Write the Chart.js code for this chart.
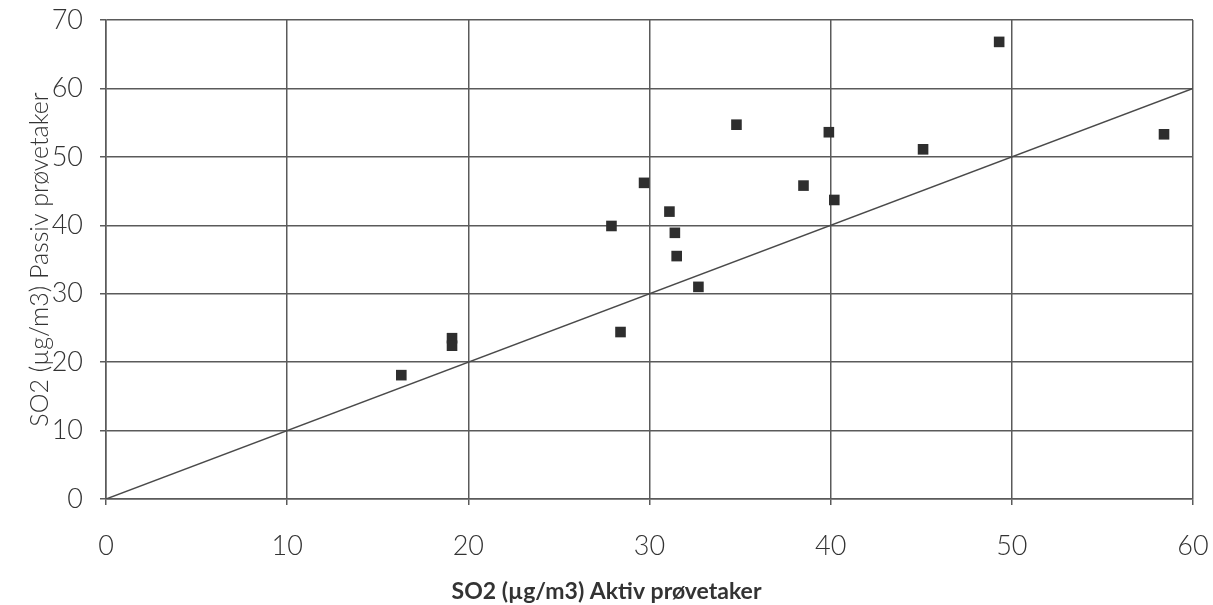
<!DOCTYPE html>
<html>
<head>
<meta charset="utf-8">
<script src="https://cdn.jsdelivr.net/npm/chart.js@4/dist/chart.umd.min.js"></script>
<style>
  html, body { margin: 0; padding: 0; background: #fff; }
  #wrap { width: 1213px; height: 605px; }
</style>
</head>
<body>
<div id="wrap"><canvas id="chart"></canvas></div>
<script>
// SO2: aktiv vs passiv provetaker
const aktiv  = [16.3, 19.1, 19.1, 27.9, 28.4, 29.7, 31.1, 31.4, 31.5, 32.7, 34.8, 38.5, 39.9, 40.2, 45.1, 49.3, 58.4];
const passiv = [18.1, 23.5, 22.4, 39.9, 24.4, 46.2, 42.0, 38.9, 35.5, 31.0, 54.7, 45.8, 53.6, 43.7, 51.1, 66.8, 53.3];
const lineX = [0, 60];
const lineY = [0, 60];
const xTicks = [0, 10, 20, 30, 40, 50, 60];
const yTicks = [0, 10, 20, 30, 40, 50, 60, 70];

const xTitle = 'SO2 (µg/m3) Aktiv prøvetaker';
const yTitle = 'SO2 (µg/m3) Passiv prøvetaker';

const points = aktiv.map((x, i) => ({ x: x, y: passiv[i] }));
const diag = lineX.map((x, i) => ({ x: x, y: lineY[i] }));

const gridCol = '#5a5a5a';
const tickFont = { family: 'Lato', size: 27, weight: '300' };

new Chart(document.getElementById('chart'), {
  type: 'scatter',
  data: {
    datasets: [{
      data: points,
      pointStyle: 'rect',
      pointRadius: 7.5,
      pointHoverRadius: 7.5,
      backgroundColor: '#2e2e2e',
      borderColor: '#2e2e2e',
      borderWidth: 0
    }, {
      type: 'line',
      data: diag,
      borderColor: '#4a4a4a',
      borderWidth: 1.5,
      pointRadius: 0,
      fill: false
    }]
  },
  options: {
    responsive: true,
    maintainAspectRatio: false,
    animation: false,
    layout: { padding: { top: 20, right: 0, left: 0, bottom: 0 } },
    plugins: {
      legend: { display: false },
      tooltip: { enabled: false },
      // x axis title, centred on the whole picture like the original
      title: {
        display: true, position: 'bottom', text: xTitle, color: '#333',
        font: { family: 'Lato', size: 23, weight: 'bold' },
        padding: { top: 0, bottom: 0 }
      }
    },
    scales: {
      x: {
        type: 'linear',
        min: 0, max: 60,
        afterBuildTicks: (s) => { s.ticks = xTicks.map(v => ({ value: v })); },
        afterFit: (s) => { s.height = 78.4; s.paddingLeft = 0; s.paddingRight = 20; },
        grid: { color: gridCol, lineWidth: 1.5, tickLength: 6 },
        border: { color: gridCol, width: 1.5 },
        ticks: { color: '#333', font: tickFont, padding: 25, maxRotation: 0 }
      },
      y: {
        type: 'linear',
        min: 0, max: 70,
        afterBuildTicks: (s) => { s.ticks = yTicks.map(v => ({ value: v })); },
        afterFit: (s) => { s.width = 106; s.paddingTop = 0; s.paddingBottom = 0; },
        grid: { color: gridCol, lineWidth: 1.5, tickLength: 6 },
        border: { color: gridCol, width: 1.5 },
        ticks: { color: '#333', font: tickFont, padding: 17 },
        title: {
          display: true, text: yTitle, color: '#333',
          font: { family: 'Lato', size: 25, weight: '300' },
          padding: { top: 25, bottom: 0 }
        }
      }
    }
  }
});
</script>
</body>
</html>
